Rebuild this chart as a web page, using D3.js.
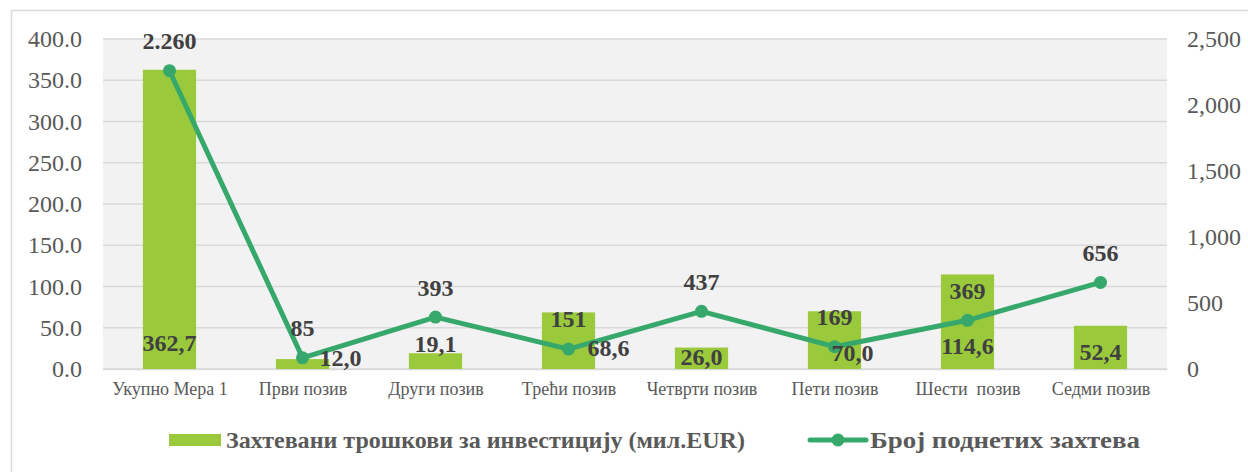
<!DOCTYPE html>
<html>
<head>
<meta charset="utf-8">
<script src="https://cdn.jsdelivr.net/npm/d3@7"></script>
<style>
    body { margin: 0; background: #fff; }
</style>
</head>
<body>
<svg id="chart" width="1248" height="472"></svg>
<script>
// categories and values
const categories = ["Укупно Мера 1", "Први позив", "Други позив", "Трећи позив", "Четврти позив", "Пети позив", "Шести  позив", "Седми позив"]
const costs = [362.7, 12.0, 19.1, 68.6, 26.0, 70.0, 114.6, 52.4]
const requests = [2260, 85, 393, 151, 437, 169, 369, 656]
const leftTicks = [0, 50, 100, 150, 200, 250, 300, 350, 400]
const rightTicks = [0, 500, 1000, 1500, 2000, 2500]
const barName = "Захтевани трошкови за инвестицију (мил.EUR)"
const lineName = "Број поднетих захтева"

// label nudges (px) for cost labels, as placed in the original
const costLabelDx = [0, 38, 0, 40, 0, 18, 0, 0]
const costLabelDy = [-26, -11, -25, -21, -12, -16, -23, -17]

const barColor = "#9aca3c"
const lineColor = "#37a86b"
const serif = "'Liberation Serif', 'Times New Roman', Times, 'DejaVu Serif', serif"

const svg = d3.select("#chart").attr("font-family", serif)
const margin = { left: 103, right: 81, top: 39, bottom: 103 }
const width = 1248 - margin.left - margin.right
const height = 472 - margin.top - margin.bottom

// chart border (only left and top edges visible in the crop)
svg.append("rect")
    .attr("x", 11.5).attr("y", 10.5)
    .attr("width", 1300).attr("height", 500)
    .attr("fill", "none").attr("stroke", "#d9d9d9").attr("stroke-width", 1.5)

const g = svg.append("g").attr("transform", `translate(${margin.left},${margin.top})`)

const x = d3.scaleBand().domain(categories).range([0, width]).paddingInner(0.6).paddingOuter(0.3)
const xc = d3.scalePoint().domain(categories).range([0, width]).padding(0.5)
const yL = d3.scaleLinear().domain([0, 400]).range([height, 0])
const yR = d3.scaleLinear().domain([0, 2500]).range([height, 0])

g.append("rect").attr("width", width).attr("height", height).attr("fill", "#f2f2f2")

// gridlines
g.append("g")
    .selectAll("line")
    .data(leftTicks)
    .enter()
    .append("line")
    .attr("x1", 0).attr("x2", width)
    .attr("y1", (d) => yL(d)).attr("y2", (d) => yL(d))
    .attr("stroke", "#d9d9d9").attr("stroke-width", 1.5)

// left axis
const leftAxis = g.append("g")
    .call(d3.axisLeft(yL).tickValues(leftTicks).tickFormat(d3.format(".1f")).tickSize(0).tickPadding(21))
leftAxis.attr("font-family", serif)
leftAxis.select(".domain").remove()
leftAxis.selectAll("text").attr("font-size", 24).attr("fill", "#595959")

// right axis
const rightAxis = g.append("g")
    .attr("transform", `translate(${width},0)`)
    .call(d3.axisRight(yR).tickValues(rightTicks).tickFormat(d3.format(",")).tickSize(0).tickPadding(20))
rightAxis.attr("font-family", serif)
rightAxis.select(".domain").remove()
rightAxis.selectAll("text").attr("font-size", 24).attr("fill", "#595959")

// bottom axis
const bottomAxis = g.append("g")
    .attr("transform", `translate(0,${height})`)
    .call(d3.axisBottom(xc).tickSize(0).tickPadding(13))
bottomAxis.attr("font-family", serif)
bottomAxis.select(".domain").attr("stroke", "#d9d9d9").attr("stroke-width", 1.5)
bottomAxis.selectAll("text").attr("font-size", 18).attr("fill", "#595959")
    .style("white-space", "pre")

// bars
g.append("g")
    .selectAll("rect")
    .data(costs)
    .enter()
    .append("rect")
    .attr("x", (d, i) => x(categories[i]))
    .attr("y", (d) => yL(d))
    .attr("width", x.bandwidth())
    .attr("height", (d) => height - yL(d))
    .attr("fill", barColor)

// line
const line = d3.line().x((d, i) => xc(categories[i])).y((d) => yR(d))
g.append("path")
    .datum(requests)
    .attr("d", line)
    .attr("fill", "none")
    .attr("stroke", lineColor)
    .attr("stroke-width", 5)
    .attr("stroke-linejoin", "round")

g.append("g")
    .selectAll("circle")
    .data(requests)
    .enter()
    .append("circle")
    .attr("cx", (d, i) => xc(categories[i]))
    .attr("cy", (d) => yR(d))
    .attr("r", 6.5)
    .attr("fill", lineColor)

// data labels
const fmtCost = (v) => v.toFixed(1).replace(".", ",")
const fmtReq = (v) => d3.format(",")(v).replace(",", ".")

g.append("g")
    .selectAll("text")
    .data(costs)
    .enter()
    .append("text")
    .attr("x", (d, i) => xc(categories[i]) + costLabelDx[i])
    .attr("y", (d, i) => height + costLabelDy[i])
    .attr("dy", "0.35em")
    .attr("text-anchor", "middle")
    .attr("font-size", 24).attr("font-weight", "bold").attr("fill", "#404040")
    .text(fmtCost)

g.append("g")
    .selectAll("text")
    .data(requests)
    .enter()
    .append("text")
    .attr("x", (d, i) => xc(categories[i]))
    .attr("y", (d) => yR(d) - 30)
    .attr("dy", "0.35em")
    .attr("text-anchor", "middle")
    .attr("font-size", 24).attr("font-weight", "bold").attr("fill", "#404040")
    .text(fmtReq)

// legend (condensed bold text, as in the original)
const legend = svg.append("g").attr("transform", "translate(0,440)")
legend.append("rect").attr("x", 169).attr("y", -6).attr("width", 52).attr("height", 12).attr("fill", barColor)
legend.append("text").attr("x", 226).attr("dy", "0.35em")
    .attr("font-size", 24).attr("font-weight", "bold").attr("fill", "#595959")
    .attr("textLength", 519).attr("lengthAdjust", "spacingAndGlyphs")
    .text(barName)
legend.append("line").attr("x1", 810).attr("x2", 866).attr("stroke", lineColor)
    .attr("stroke-width", 5).attr("stroke-linecap", "round")
legend.append("circle").attr("cx", 838).attr("r", 6.5).attr("fill", lineColor)
legend.append("text").attr("x", 870).attr("dy", "0.35em")
    .attr("font-size", 24).attr("font-weight", "bold").attr("fill", "#595959")
    .attr("textLength", 270).attr("lengthAdjust", "spacingAndGlyphs")
    .text(lineName)
</script>
</body>
</html>
